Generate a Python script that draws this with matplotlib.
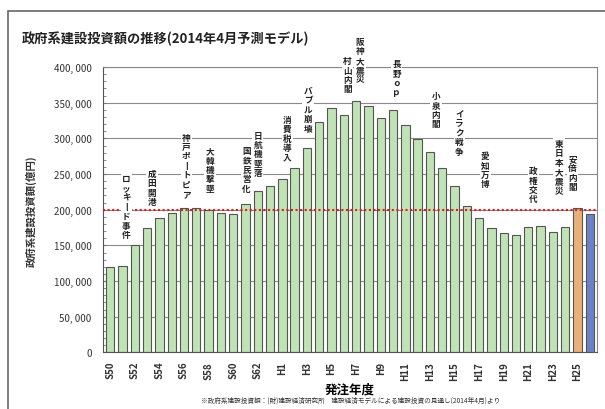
import numpy as np
import matplotlib
matplotlib.use("Agg")
import matplotlib.pyplot as plt
from matplotlib.patches import Rectangle

plt.rcParams['font.family'] = ['Noto Sans CJK JP', 'DejaVu Sans']

# data (億円)
years = ["S50", "S51", "S52", "S53", "S54", "S55", "S56", "S57", "S58", "S59",
         "S60", "S61", "S62", "S63", "H1", "H2", "H3", "H4", "H5", "H6",
         "H7", "H8", "H9", "H10", "H11", "H12", "H13", "H14", "H15", "H16",
         "H17", "H18", "H19", "H20", "H21", "H22", "H23", "H24", "H25", "H26"]
values = [120000, 121500, 151000, 175000, 188000, 196000, 203000, 203000, 200000, 195000,
          194000, 208000, 226000, 233500, 243000, 258000, 286000, 323000, 342000, 333000,
          352500, 345500, 329000, 340000, 319000, 299000, 281000, 259000, 233000, 205500,
          188000, 175000, 167000, 164500, 176000, 177000, 169000, 176000, 202000, 194000]
reference_level = 200000

events = ["ロッキード事件", "成田開港", "神戸ポートピア", "大韓機撃墜", "国鉄民営化",
          "日航機墜落", "消費税導入", "バブル崩壊", "村山内閣", "阪神大震災",
          "長野ｏｐ", "小泉内閣", "イラク戦争", "愛知万博", "政権交代",
          "東日本大震災", "安倍内閣"]
event_years = ["S51", "S53", "S56", "S58", "S61", "S62", "H1", "H3", "H6", "H7",
               "H10", "H13", "H15", "H17", "H21", "H23", "H24"]
# top of each vertical label (in axis units) and small x shift
event_tops = [250000, 257000, 308000, 289000, 289000, 311000, 333000, 374000, 415000, 442000,
              411000, 366000, 341000, 282000, 261000, 299000, 278000]
event_dx = [0.3, 0.4, 0.2, 0.1, 0.1, 0.0, 0.4, 0.1, 0.3, 0.3,
            0.3, 0.5, 0.4, 0.5, 0.4, 0.5, 0.6]

fig = plt.figure(figsize=(6.05, 4.1), dpi=100)
ax = fig.add_axes([0.170, 0.138, 0.817, 0.696])

x = np.arange(len(years))
colors = ["#bfe3b5"] * (len(years) - 2) + ["#e8b07a", "#6b82c6"]
ax.bar(x, values, width=0.68, color=colors, edgecolor="#555555", linewidth=0.8, zorder=2)

ax.axhline(reference_level, color="#d42020", linestyle=(0, (1, 1.2)), linewidth=1.5, zorder=3)

ax.set_xlim(-0.6, len(years) - 0.4)
ax.set_ylim(0, 400000)
yt = np.arange(0, 400001, 50000)
ax.set_yticks(yt)
ax.set_yticklabels([f"{v:,}".replace(",", ", ") for v in yt], fontsize=7, color="#333333")
ax.set_yticks(np.arange(0, 400001, 10000), minor=True)
ax.yaxis.grid(True, color="#8a8a8a", linewidth=0.8, zorder=0)
ax.set_axisbelow(True)

ax.set_xticks(x[::2])
ax.set_xticklabels(years[::2], rotation=90, fontsize=7, fontweight="bold", color="#333333")
ax.tick_params(axis="x", length=0, pad=6)
ax.tick_params(axis="y", which="both", direction="in", length=2, pad=8, color="#777777")
for s in ax.spines.values():
    s.set_color("#888888")
    s.set_linewidth(0.8)
ax.spines["left"].set_color("#555555")
ax.spines["bottom"].set_color("#555555")

ax.set_xlabel("発注年度", fontsize=9, fontweight="bold", labelpad=2)
ax.set_ylabel("政府系建設投資額(億円)", fontsize=7.5, fontweight="bold", labelpad=12, color="#333333")

for txt, yr, top, dx in zip(events, event_years, event_tops, event_dx):
    vert = "\n".join(txt.replace("ー", "丨"))
    ax.text(years.index(yr) + dx, top, vert, ha="center", va="top", fontsize=6.2,
            fontweight="bold", color="#222222", linespacing=1.05, zorder=4, clip_on=False,
            bbox=dict(facecolor="white", edgecolor="none", pad=1.0))

fig.text(0.036, 0.905, "政府系建設投資額の推移(2014年4月予測モデル)", fontsize=9.5,
         fontweight="bold", color="#222222", va="center")
fig.text(0.58, 0.013, "※政府系建設投資額：(財)建設経済研究所　建設経済モデルによる建設投資の見通し(2014年4月)より",
         fontsize=4.8, color="#333333", ha="center", va="bottom")

fig.patches.append(Rectangle((0.013, -0.01), 0.99, 0.98, transform=fig.transFigure,
                             fill=False, edgecolor="#666666", linewidth=1.2))

fig.savefig("out.png", dpi=100)
